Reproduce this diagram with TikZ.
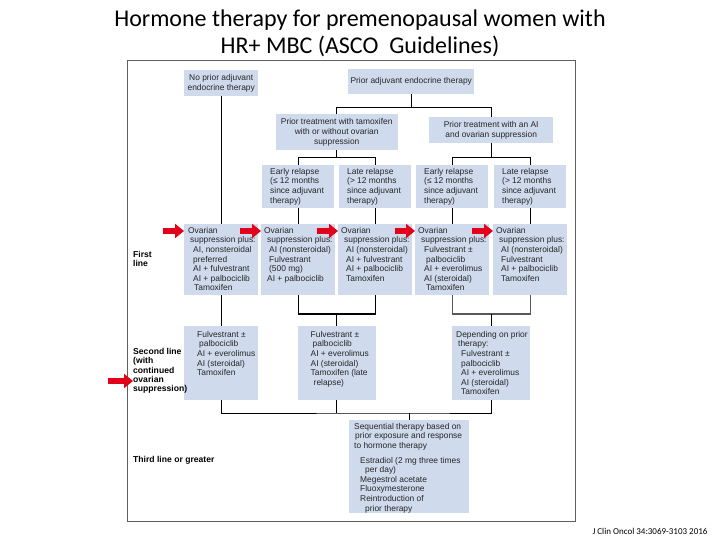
\documentclass[tikz,border=0pt]{standalone}
\usepackage{fontspec}
\setmainfont{Liberation Sans}
\newfontfamily\titlefont{Carlito}
\usetikzlibrary{arrows.meta}
\definecolor{boxblue}{RGB}{207,218,237}
\definecolor{arrred}{RGB}{226,0,26}
\definecolor{framegray}{RGB}{95,95,95}
\begin{document}
\begin{tikzpicture}[x=1pt,y=-1pt,
  bx/.style={fill=boxblue, inner sep=0pt, anchor=north west},
  cbx/.style={fill=boxblue, inner sep=0pt, anchor=north west, align=center, text=black!85, font=\fontsize{8.4}{9.8}\selectfont},
  tx/.style={anchor=north west, inner sep=0pt, align=left, text=black!85, font=\fontsize{8.4}{9.6}\selectfont},
  lbl/.style={anchor=north west, inner sep=0pt, align=left, font=\bfseries\fontsize{8.6}{9.3}\selectfont},
  conn/.style={line width=1.3pt, black},
  redarr/.style={line width=6.5pt, arrred, -{Triangle[length=9pt,width=14pt]}}
]
\useasboundingbox (0,0) rectangle (720,540);

% title
\node[font=\titlefont\fontsize{24}{27}\selectfont, align=center] (title) at (360,33.5)
  {Hormone therapy for premenopausal women with\\HR+ MBC (ASCO\ \ Guidelines)};

% frame
\node[draw=framegray, line width=1pt, inner sep=0pt, minimum width=448pt, minimum height=461pt, anchor=north west] (frame) at (127,60) {};

% top level
\node[cbx, minimum width=74pt, minimum height=26pt] (np) at (184,70) {No prior adjuvant\\endocrine therapy};
\node[cbx, minimum width=126pt, minimum height=25pt] (pa) at (348,69) {Prior adjuvant endocrine therapy};
\node[cbx, minimum width=122pt, minimum height=36pt] (pt) at (275.5,114) {Prior treatment with tamoxifen\\with or without ovarian\\suppression};
\node[cbx, minimum width=124pt, minimum height=26pt] (pai) at (429,117) {Prior treatment with an AI\\and ovarian suppression};

% relapse boxes
\node[bx, minimum width=72pt, minimum height=43pt] (er1) at (262,165) {};
\node[bx, minimum width=72pt, minimum height=43pt] (lr1) at (339,165) {};
\node[bx, minimum width=72pt, minimum height=43pt] (er2) at (416,165) {};
\node[bx, minimum width=72pt, minimum height=43pt] (lr2) at (494,165) {};
\node[tx] (er1t) at ([xshift=8pt,yshift=-3pt]er1.north west) {Early relapse\\(≤ 12 months\\since adjuvant\\therapy)};
\node[tx] (lr1t) at ([xshift=8pt,yshift=-3pt]lr1.north west) {Late relapse\\(> 12 months\\since adjuvant\\therapy)};
\node[tx] (er2t) at ([xshift=8pt,yshift=-3pt]er2.north west) {Early relapse\\(≤ 12 months\\since adjuvant\\therapy)};
\node[tx] (lr2t) at ([xshift=8pt,yshift=-3pt]lr2.north west) {Late relapse\\(> 12 months\\since adjuvant\\therapy)};

% first line boxes
\node[bx, minimum width=74pt, minimum height=71pt] (A) at (184,224) {};
\node[bx, minimum width=74pt, minimum height=71pt] (B) at (261,224) {};
\node[bx, minimum width=74pt, minimum height=71pt] (C) at (338,224) {};
\node[bx, minimum width=74pt, minimum height=71pt] (D) at (415,224) {};
\node[bx, minimum width=74pt, minimum height=71pt] (E) at (493,224) {};
\node[tx] (At) at ([xshift=4pt,yshift=-3pt]A.north west) {Ovarian\\\hspace*{2pt}suppression plus:\\\hspace*{5pt}AI, nonsteroidal\\\hspace*{5pt}preferred\\\hspace*{5pt}AI + fulvestrant\\\hspace*{5pt}AI + palbociclib\\\hspace*{6pt}Tamoxifen};
\node[tx] (Bt) at ([xshift=3pt,yshift=-3pt]B.north west) {Ovarian\\\hspace*{3pt}suppression plus:\\\hspace*{5pt}AI (nonsteroidal)\\\hspace*{5pt}Fulvestrant\\\hspace*{5pt}(500 mg)\\\hspace*{3pt}AI + palbociclib};
\node[tx] (Ct) at ([xshift=3pt,yshift=-3pt]C.north west) {Ovarian\\\hspace*{3pt}suppression plus:\\\hspace*{5pt}AI (nonsteroidal)\\\hspace*{5pt}AI + fulvestrant\\\hspace*{5pt}AI + palbociclib\\\hspace*{5pt}Tamoxifen};
\node[tx] (Dt) at ([xshift=3pt,yshift=-3pt]D.north west) {Ovarian\\\hspace*{3pt}suppression plus:\\\hspace*{6pt}Fulvestrant ±\\\hspace*{8pt}palbociclib\\\hspace*{6pt}AI + everolimus\\\hspace*{6pt}AI (steroidal)\\\hspace*{8pt}Tamoxifen};
\node[tx] (Et) at ([xshift=3pt,yshift=-3pt]E.north west) {Ovarian\\\hspace*{3pt}suppression plus:\\\hspace*{5pt}AI (nonsteroidal)\\\hspace*{5pt}Fulvestrant\\\hspace*{5pt}AI + palbociclib\\\hspace*{5pt}Tamoxifen};

% second line boxes
\node[bx, minimum width=74pt, minimum height=74pt] (s1) at (184,326) {};
\node[bx, minimum width=78pt, minimum height=74pt] (s2) at (297.5,326) {};
\node[bx, minimum width=78pt, minimum height=74pt] (s3) at (452,326) {};
\node[tx] (s1t) at ([xshift=13pt,yshift=-5pt]s1.north west) {Fulvestrant ±\\\hspace*{2pt}palbociclib\\AI + everolimus\\AI (steroidal)\\Tamoxifen};
\node[tx] (s2t) at ([xshift=13pt,yshift=-5pt]s2.north west) {Fulvestrant ±\\\hspace*{2pt}palbociclib\\AI + everolimus\\AI (steroidal)\\Tamoxifen (late\\\hspace*{3pt}relapse)};
\node[tx] (s3t) at ([xshift=4pt,yshift=-5pt]s3.north west) {Depending on prior\\\hspace*{2pt}therapy:\\\hspace*{5pt}Fulvestrant ±\\\hspace*{5pt}palbociclib\\\hspace*{5pt}AI + everolimus\\\hspace*{5pt}AI (steroidal)\\\hspace*{5pt}Tamoxifen};

% third line box
\node[bx, minimum width=120pt, minimum height=93pt] (th) at (349,420) {};
\node[tx] (tht) at ([xshift=5pt,yshift=-3pt]th.north west) {Sequential therapy based on\\\hspace*{1pt}prior exposure and response\\to hormone therapy\\[5pt]\hspace*{6pt}Estradiol (2 mg three times\\\hspace*{11pt}per day)\\\hspace*{6pt}Megestrol acetate\\\hspace*{6pt}Fluoxymesterone\\\hspace*{6pt}Reintroduction of\\\hspace*{11pt}prior therapy};

% row labels
\node[lbl] (l1) at (133,251) {First\\line};
\node[lbl] (l2) at (133,348) {Second line\\(with\\continued\\ovarian\\suppression)};
\node[lbl, anchor=west] (l3) at (133,460) {Third line or greater};

% connectors
\draw[conn] (np.south) -- (A.north);
\coordinate (j1) at ([yshift=-13pt]pa.south);
\draw[conn] (pa.south) -- (j1);
\draw[conn] (pt.north) |- (j1) -| (pai.north);
\coordinate (j2) at ([yshift=-7pt]pt.south);
\draw[conn] (pt.south) -- (j2);
\draw[conn] (er1.north) |- (j2) -| (lr1.north);
\coordinate (j3) at (pai.south |- j2);
\draw[conn] (pai.south) -- (j3);
\draw[conn] (er2.north) |- (j3) -| (lr2.north);
\draw[conn] (er1.south) -- (B.north);
\draw[conn] (lr1.south) -- (C.north);
\draw[conn] (er2.south) -- (D.north);
\draw[conn] (lr2.south) -- (E.north);

\draw[conn] (A.south) -- (s1.north);
\coordinate (j4) at (s2.north |- 0,314);
\draw[conn] (B.south) |- (j4) -| (C.south);
\draw[conn] (j4) -- (s2.north);
\coordinate (j5) at (s3.north |- j4);
\draw[conn, black!65] (D.south) |- (j5) -| (E.south);
\draw[conn] (j5) -- (s3.north);

\coordinate (j6) at (th.north |- 0,413);
\draw[conn, line width=1pt] (s1.south) |- (j6) -| (s3.south);
\draw[conn, line width=1pt] (s2.south) -- (s2.south |- j6);
\draw[conn, line width=1pt] (j6) -- (th.north);

% red pointer arrows
\coordinate (r1) at (163,231);
\coordinate (r2) at (240,231);
\coordinate (r3) at (317,231);
\coordinate (r4) at (395,231);
\coordinate (r5) at (472,231);
\coordinate (r6) at (108,381);
\draw[redarr] (r1) -- (A.west |- r1);
\draw[redarr] (r2) -- (B.west |- r2);
\draw[redarr] (r3) -- (C.west |- r3);
\draw[redarr] (r4) -- (D.west |- r4);
\draw[redarr] (r5) -- (E.west |- r5);
\draw[redarr] (r6) -- (l2.west |- r6);

% citation
\node[font=\titlefont\fontsize{9}{10}\selectfont] (cite) at (650,531) {J Clin Oncol 34:3069-3103 2016};
\end{tikzpicture}
\end{document}
